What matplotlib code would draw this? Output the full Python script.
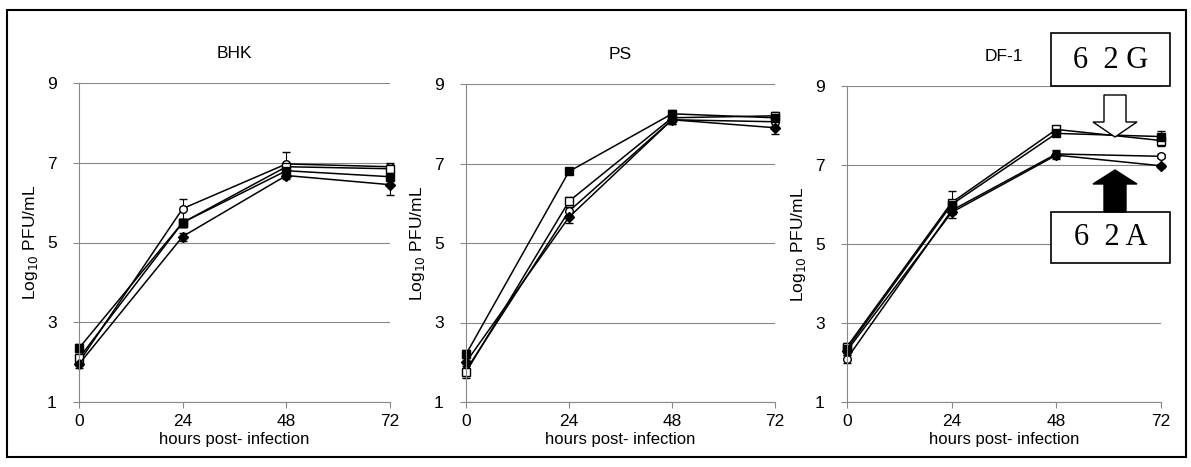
import numpy as np
import matplotlib.pyplot as plt
from matplotlib.patches import Rectangle, FancyArrow

plt.rcParams['font.family'] = ['Liberation Sans', 'DejaVu Sans']

hours = [0, 24, 48, 72]
panels = ["BHK", "PS", "DF-1"]
markers = ["o", "s", "s", "D"]
fills = ["white", "white", "black", "black"]

# values per panel: open circle, open square, filled square, filled diamond
bhk = [[2.0, 5.85, 6.97, 6.9],
       [2.1, 5.5, 6.9, 6.85],
       [2.35, 5.5, 6.8, 6.65],
       [1.95, 5.15, 6.68, 6.45]]
bhk_err = [[0.1, 0.25, 0.3, 0.1],
           [0.1, 0.1, 0.1, 0.1],
           [0.1, 0.1, 0.1, 0.1],
           [0.1, 0.1, 0.1, 0.25]]
ps = [[1.8, 5.8, 8.1, 8.05],
      [1.75, 6.05, 8.15, 8.2],
      [2.2, 6.8, 8.25, 8.15],
      [2.0, 5.65, 8.1, 7.9]]
ps_err = [[0.15, 0.1, 0.1, 0.1],
          [0.15, 0.1, 0.1, 0.1],
          [0.1, 0.05, 0.1, 0.1],
          [0.2, 0.15, 0.1, 0.15]]
df1 = [[2.1, 5.85, 7.28, 7.22],
       [2.4, 6.05, 7.9, 7.62],
       [2.35, 6.0, 7.8, 7.72],
       [2.3, 5.8, 7.25, 6.98]]
df1_err = [[0.1, 0.1, 0.1, 0.05],
           [0.1, 0.3, 0.05, 0.15],
           [0.1, 0.1, 0.05, 0.15],
           [0.1, 0.15, 0.1, 0.05]]

data = [bhk, ps, df1]
errs = [bhk_err, ps_err, df1_err]

fig = plt.figure(figsize=(11.91, 4.67), dpi=100)
fig.patches.append(Rectangle((7 / 1191, 1 - 457 / 467), 1179 / 1191, 447 / 467,
                             transform=fig.transFigure, fill=False,
                             edgecolor="black", linewidth=1.5))

lefts = [79, 466, 847]
widths = [311, 309, 314]
tops = [83, 84, 86]
for k in range(3):
    bottom = 1 - 402 / 467
    ax = fig.add_axes([lefts[k] / 1191, bottom, widths[k] / 1191,
                       (402 - tops[k]) / 467])
    for s in range(4):
        ax.errorbar(hours, data[k][s], yerr=errs[k][s], color="black",
                    marker=markers[s], markerfacecolor=fills[s],
                    markeredgecolor="black", markersize=5.5, linewidth=1.1,
                    elinewidth=0.8, capsize=3, clip_on=False)
    ax.set_xlim(0, 72)
    ax.set_ylim(1, 9)
    ax.set_xticks(hours)
    ax.set_yticks([1, 3, 5, 7, 9])
    ax.grid(axis="y", color="#888888", linewidth=0.8)
    for side in ["top", "right"]:
        ax.spines[side].set_visible(False)
    ax.spines["left"].set_color("#888888")
    ax.spines["bottom"].set_color("#888888")
    ax.tick_params(axis="x", direction="out", length=4, color="#888888",
                   labelsize=12.5, pad=5)
    ax.tick_params(axis="y", direction="out", length=4, color="#888888",
                   labelsize=12.5, pad=12)
    ax.set_xlabel("hours post- infection", fontsize=12, labelpad=2)
    ax.set_ylabel("Log$_{10}$ PFU/mL", fontsize=12.5, labelpad=5)
    ax.set_title(panels[k], fontsize=12.5, pad=18)

    if k == 2:
        serif = ['Liberation Serif', 'DejaVu Serif']
        box_w = 119 / 1191
        box_x = 1051 / 1191
        fig.patches.append(Rectangle((box_x, 1 - 86 / 467), box_w, 53 / 467,
                                     transform=fig.transFigure, fill=True,
                                     facecolor="white", edgecolor="black",
                                     linewidth=1.2))
        fig.text(box_x + box_w / 2, 1 - 60 / 467, "6  2 G", ha="center",
                 va="center", fontsize=22, family=serif)
        fig.patches.append(Rectangle((box_x, 1 - 263 / 467), box_w, 51 / 467,
                                     transform=fig.transFigure, fill=True,
                                     facecolor="white", edgecolor="black",
                                     linewidth=1.2))
        fig.text(box_x + box_w / 2, 1 - 238 / 467, "6  2 A", ha="center",
                 va="center", fontsize=22, family=serif)
        cx = 1115 / 1191
        fig.patches.append(FancyArrow(cx, 1 - 95 / 467, 0, -42 / 467,
                                      width=22 / 1191, head_width=44 / 1191,
                                      head_length=15 / 467,
                                      length_includes_head=True,
                                      transform=fig.transFigure,
                                      facecolor="white", edgecolor="black",
                                      linewidth=1))
        fig.patches.append(FancyArrow(cx, 1 - 212 / 467, 0, 42 / 467,
                                      width=22 / 1191, head_width=44 / 1191,
                                      head_length=14 / 467,
                                      length_includes_head=True,
                                      transform=fig.transFigure,
                                      facecolor="black", edgecolor="black",
                                      linewidth=1))

fig.savefig("out.png", dpi=100)
